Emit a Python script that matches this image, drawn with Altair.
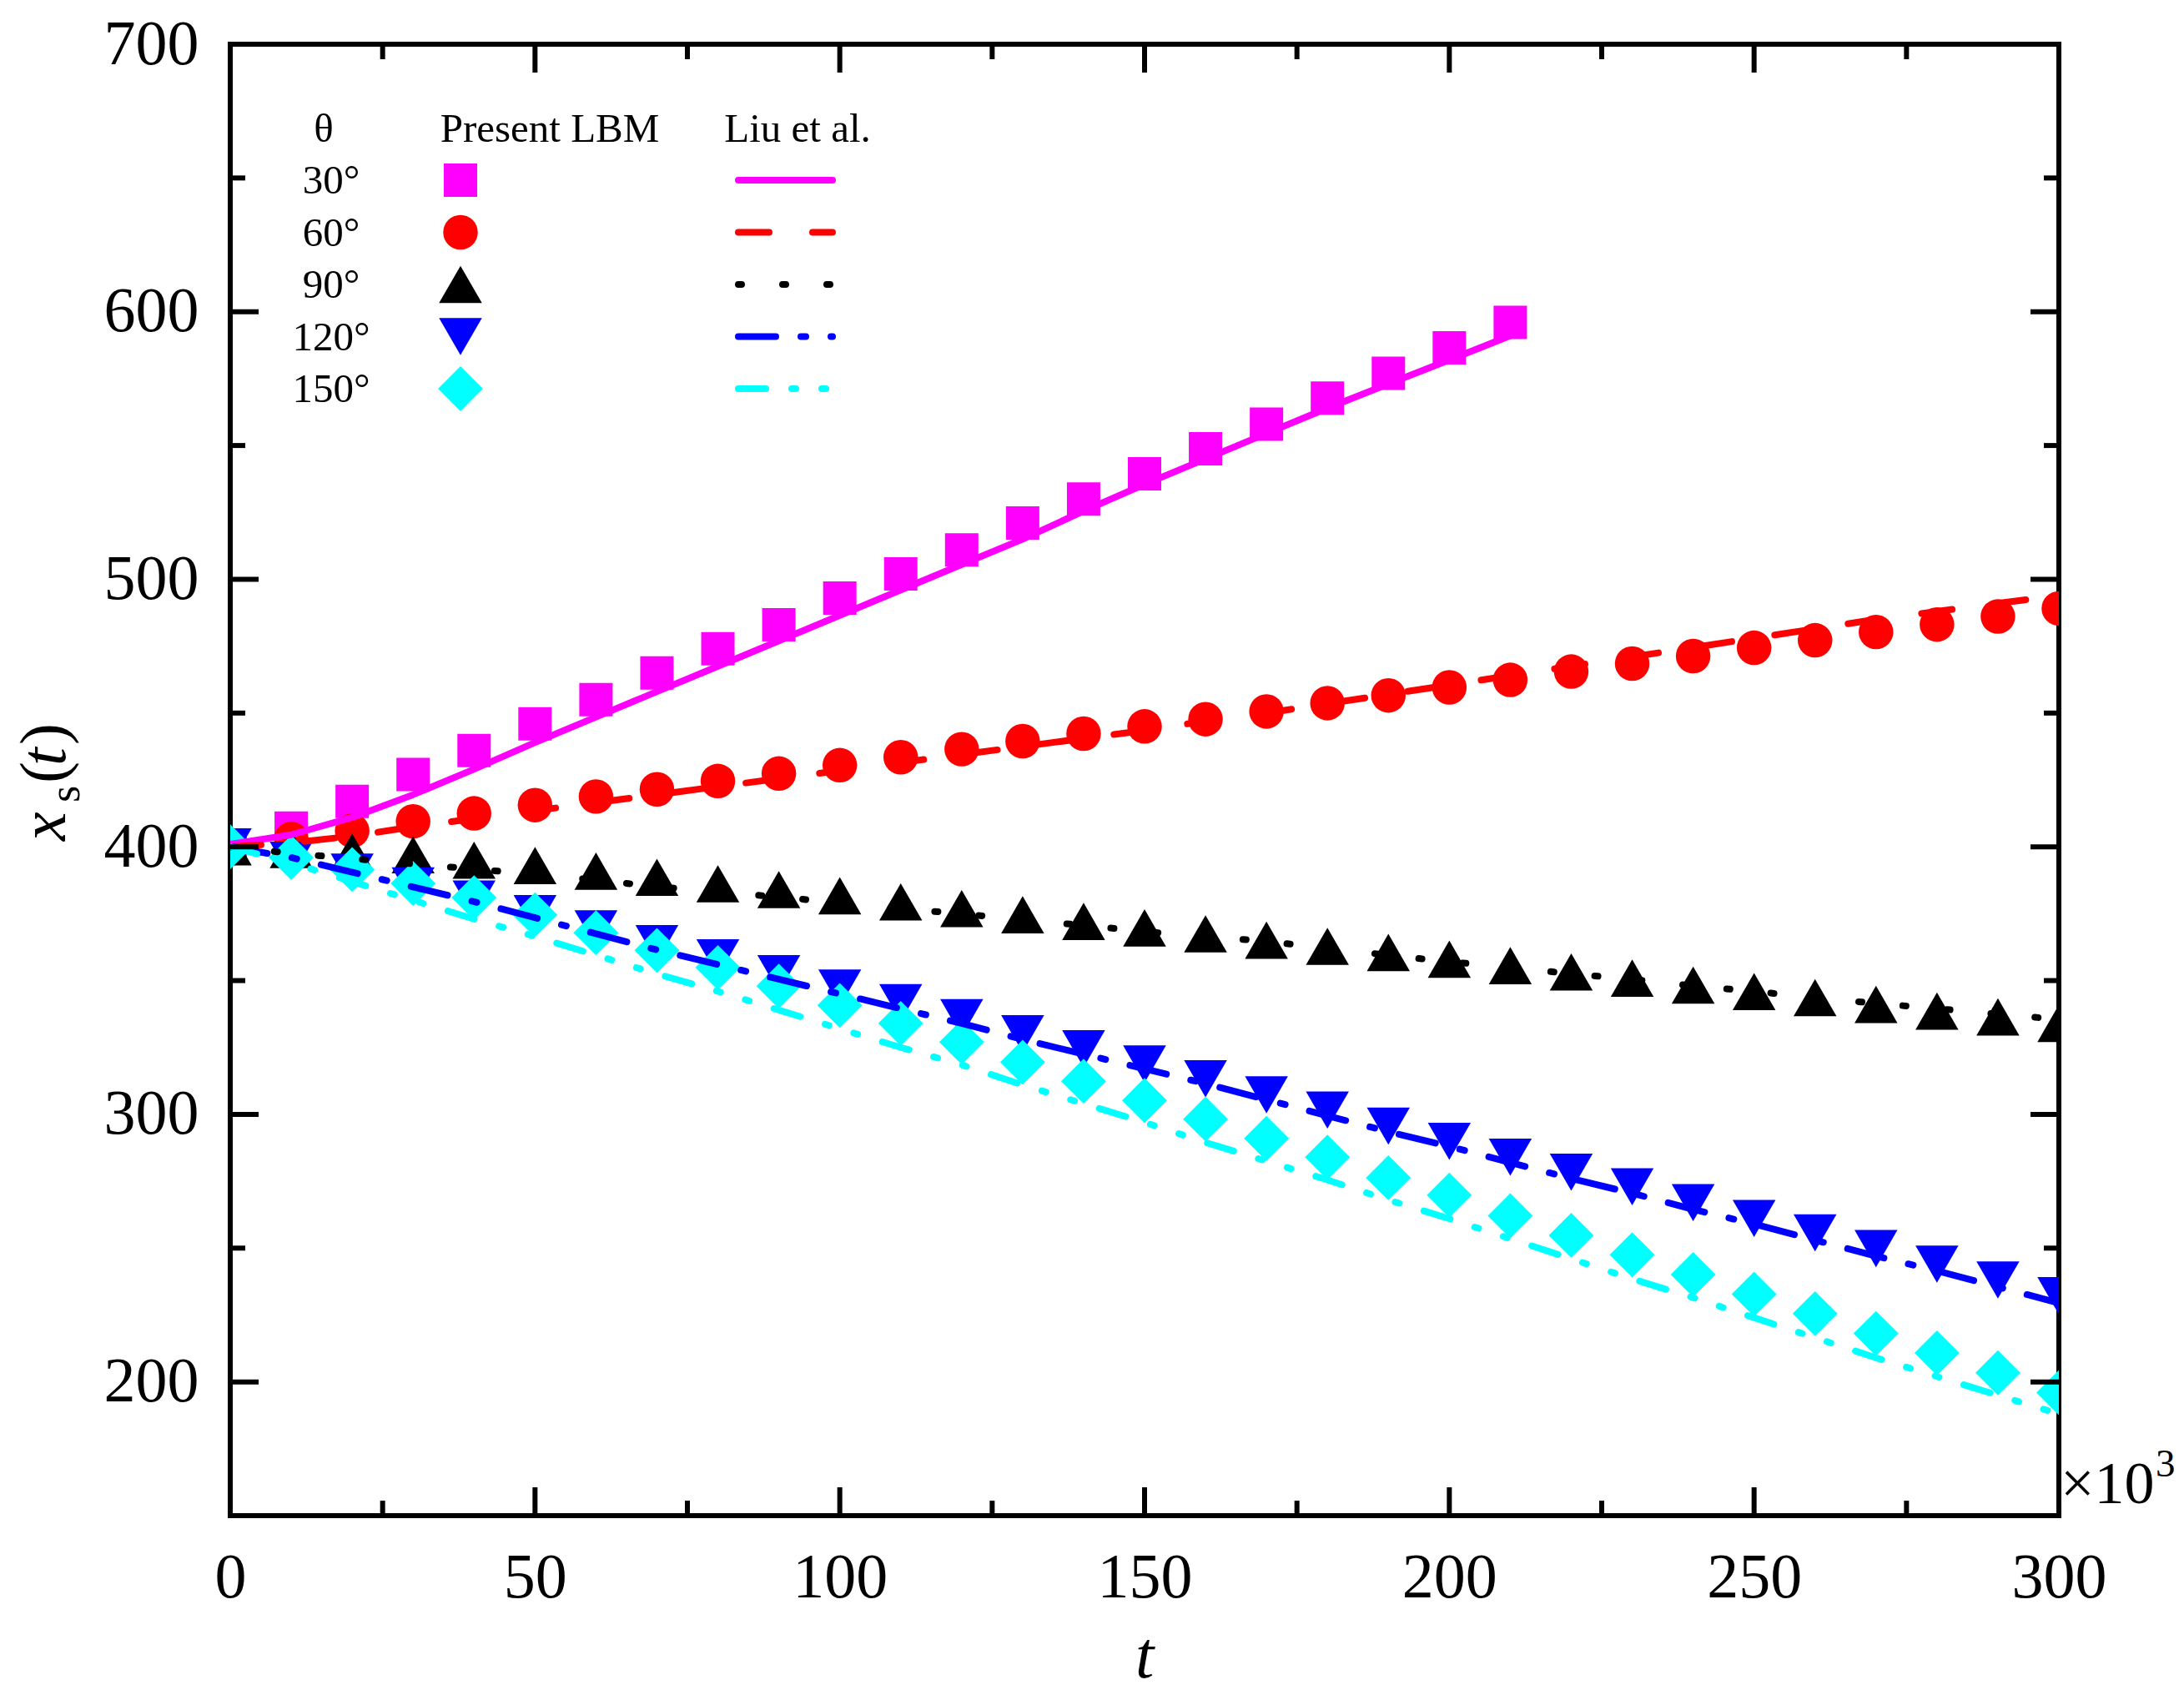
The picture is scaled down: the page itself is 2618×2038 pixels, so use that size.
import altair as alt
import pandas as pd

FONT = "Liberation Serif"

# ---------------- data (t in units of 10^3) ----------------
t_all = list(range(0, 301, 10))
t_30 = list(range(0, 211, 10))

lbm_30 = [400, 407, 417, 427, 436, 446, 455, 465, 474, 483, 493, 502, 511, 521,
          530, 539.4, 548.8, 558, 567.7, 577, 586.5, 596]
lbm_60 = [400, 403, 406, 409.5, 412.5, 415.6, 418.8, 421.5, 424.6, 427.4, 430.5,
          433.5, 436.5, 439.5, 442.3, 445, 447.7, 450.6, 453.7, 456.6, 459.6,
          462.4, 465.5, 468.5, 471.3, 474.4, 477.2, 480.3, 483.1, 486.1, 489.1]
lbm_90 = [400, 399, 398, 397, 395, 393, 390.9, 388.6, 386.2, 384, 381.7, 379.4,
          376.9, 374.6, 372.1, 369.7, 367.5, 365.1, 362.8, 360.5, 358, 355.6,
          353.2, 350.9, 348.3, 345.9, 343.6, 341.1, 338.6, 336.4, 334]
lbm_120 = [400, 395, 390.5, 385.4, 380.5, 375, 369.3, 363.8, 358.5, 352.6, 347.2,
           341.7, 336.1, 330.1, 324.5, 318.8, 313.3, 307.3, 301.6, 295.6, 289.9,
           284, 278.4, 272.9, 267, 261.1, 255.7, 249.8, 244, 238.1, 232.2]
lbm_150 = [400, 396, 391.5, 386.3, 381, 374.6, 367.9, 361.3, 354.9, 347.9, 340.7,
           334, 327, 319.5, 312.4, 305.2, 298.2, 291, 284, 276.3, 269.8, 262.1,
           254.8, 247.5, 240.1, 232.8, 225.5, 218.1, 210.8, 203.4, 196]

liu_30 = [401, 404.5, 411, 419.5, 429, 439, 448.5, 458, 467.5, 477, 486.5, 496,
          505.5, 515, 525.5, 535.5, 545, 554.5, 564, 573, 582, 591]
liu_60 = [400, 401.5, 404, 407.5, 410.5, 413.5, 416.5, 419.5, 422.5, 425.5, 428.5,
          431.5, 434.5, 437.5, 440.5, 443.5, 447, 450, 453.5, 457, 460.5, 464,
          467.5, 471, 474.5, 478, 481.5, 485, 488, 491, 494]
liu_90 = [400, 397.6, 395.6, 393.6, 391.7, 389.7, 387.6, 385.1, 383, 381.3, 379,
          376.9, 375, 372.6, 370.7, 368.3, 366.5, 364.7, 362, 359.5, 357, 355,
          352.5, 350.5, 348, 346, 343.5, 341.5, 339.5, 337.5, 335.5]
liu_120 = [400, 396, 390.5, 385, 379.5, 373.5, 367.5, 361.5, 356, 350.5, 345,
           339.5, 334, 328, 322.5, 317, 311.5, 305.5, 299.5, 293.5, 288, 282, 276,
           270.5, 264.5, 259, 253, 247, 241.5, 235.5, 229.5]
liu_150 = [400, 394, 387, 380, 373, 366.5, 359.5, 352.5, 346, 339, 332, 325,
           318.5, 311, 304, 297, 289.5, 282.5, 275.5, 268, 261, 253.5, 246, 238.5,
           231.5, 224, 216.5, 209, 202, 195, 188]

angles = ["30°", "60°", "90°", "120°", "150°"]
colors = ["#FF00FF", "#FF0000", "#000000", "#0000FF", "#00FFFF"]
shapes = ["square", "circle", "triangle-up", "triangle-down", "diamond"]
sizes = [1600, 1720, 2650, 2650, 2900]
dashes = [None, [37, 52], [4, 49], [45, 30, 6, 30], [33, 31, 5, 31, 5, 31]]

x_major = [0, 50, 100, 150, 200, 250, 300]
x_minor = [25, 75, 125, 175, 225, 275]
y_major = [200, 300, 400, 500, 600, 700]
y_minor = [250, 350, 450, 550, 650]

W, H = 2192, 1764

xs = alt.Scale(domain=[0, 300], nice=False, zero=False)
ys = alt.Scale(domain=[150, 700], nice=False, zero=False)

x_axis = alt.Axis(values=x_major, title=None, ticks=False, domain=False, grid=False,
                  labelFont=FONT, labelFontSize=76, labelPadding=37, labelColor="black",
                  labelFlush=False, labelOverlap=False)
y_axis = alt.Axis(values=y_major, title=None, ticks=False, domain=False, grid=False,
                  labelFont=FONT, labelFontSize=76, labelPadding=38, labelColor="black",
                  labelFlush=False, labelOverlap=False)


def X(field="t"):
    return alt.X(f"{field}:Q", scale=xs, axis=x_axis)


def Y(field="v"):
    return alt.Y(f"{field}:Q", scale=ys, axis=y_axis)


lbm_sets = [(t_30, lbm_30), (t_all, lbm_60), (t_all, lbm_90), (t_all, lbm_120), (t_all, lbm_150)]
liu_sets = [(t_30, liu_30), (t_all, liu_60), (t_all, liu_90), (t_all, liu_120), (t_all, liu_150)]

layers = []

# markers (all first)
for (tt, vv), c, sh, sz in zip(lbm_sets, colors, shapes, sizes):
    df = pd.DataFrame({"t": tt, "v": vv})
    layers.append(
        alt.Chart(df).mark_point(shape=sh, filled=True, size=sz, color=c, opacity=1,
                                 strokeWidth=0, clip=True).encode(x=X(), y=Y())
    )

# lines on top
for (tt, vv), c, d in zip(liu_sets, colors, dashes):
    df = pd.DataFrame({"t": tt, "v": vv})
    kw = dict(color=c, strokeWidth=8, strokeCap="round", strokeJoin="round", clip=True)
    if d is not None:
        kw["strokeDash"] = d
    layers.append(alt.Chart(df).mark_line(**kw).encode(x=X(), y=Y()))

# inward ticks on all four sides
TK = dict(color="black", strokeWidth=6)
for vals, ln in [(x_major, 34), (x_minor, 18)]:
    df = pd.DataFrame({"t": vals})
    layers.append(alt.Chart(df).mark_rule(**TK).encode(x=X(), y=alt.value(H), y2=alt.value(H - ln)))
    layers.append(alt.Chart(df).mark_rule(**TK).encode(x=X(), y=alt.value(0), y2=alt.value(ln)))
for vals, ln in [(y_major, 34), (y_minor, 18)]:
    df = pd.DataFrame({"v": vals})
    layers.append(alt.Chart(df).mark_rule(**TK).encode(y=Y(), x=alt.value(0), x2=alt.value(ln)))
    layers.append(alt.Chart(df).mark_rule(**TK).encode(y=Y(), x=alt.value(W), x2=alt.value(W - ln)))

one = pd.DataFrame({"a": [0]})


def txt(s, x, y, size, style="normal", align="center", angle=0):
    kw = dict(font=FONT, fontSize=size, fontStyle=style, align=align,
              baseline="alphabetic", color="black")
    if angle:
        kw["angle"] = angle
    return alt.Chart(one).mark_text(**kw).encode(x=alt.value(x), y=alt.value(y), text=alt.value(s))


# legend
layers.append(txt("θ", 112, 117, 49))
layers.append(txt("Present LBM", 383, 117, 49))
layers.append(txt("Liu et al.", 680, 117, 49))
row_y = [163, 225.5, 288, 350.5, 413]
for i, (a, c, sh, sz, d) in enumerate(zip(angles, colors, shapes, sizes, dashes)):
    yy = row_y[i]
    layers.append(txt(a, 121, yy + 16, 49))
    layers.append(
        alt.Chart(one).mark_point(shape=sh, filled=True, size=sz, color=c, opacity=1,
                                  strokeWidth=0).encode(x=alt.value(276), y=alt.value(yy))
    )
    kw = dict(color=c, strokeWidth=8, strokeCap="round")
    if d is not None:
        kw["strokeDash"] = d
    layers.append(
        alt.Chart(one).mark_rule(**kw).encode(x=alt.value(609), x2=alt.value(722), y=alt.value(yy))
    )

# axis titles
layers.append(txt("t", 1096, 1958, 80, style="italic"))
layers.append(txt("x", -198, 955, 78, style="italic", align="left", angle=270))
layers.append(txt("s", -181, 909, 52, align="left", angle=270))
layers.append(txt("(", -198, 886, 78, align="left", angle=270))
layers.append(txt("t", -198, 865, 78, style="italic", align="left", angle=270))
layers.append(txt(")", -198, 840, 78, align="left", angle=270))

# x10^3 multiplier
layers.append(txt("×10", 2194, 1749, 72, align="left"))
layers.append(txt("3", 2308, 1717, 47, align="left"))

chart = alt.layer(*layers).properties(
    width=W, height=H,
    autosize=alt.AutoSizeParams(type="none"),
    padding={"left": 268, "top": 45, "right": 142, "bottom": 210},
    background="white",
).configure_view(stroke="black", strokeWidth=6)

chart.save("out.html", embed_options={"renderer": "svg", "actions": False})
